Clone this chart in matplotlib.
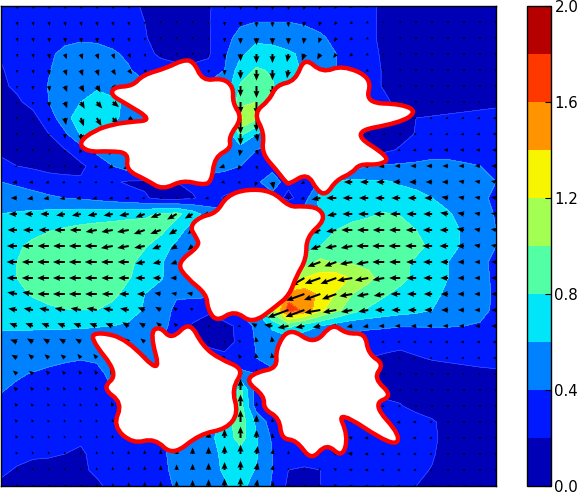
import numpy as np
import matplotlib
matplotlib.use('Agg')
import matplotlib.pyplot as plt
from matplotlib.path import Path
from matplotlib.patches import PathPatch

x_nodes = np.arange(1, 498, 16)
y_nodes = np.arange(6, 487, 16)
levels = [0, .2, .4, .6, .8, 1.0, 1.2, 1.4, 1.6, 1.8, 2.0]
bar_ticks = [0.0, 0.4, 0.8, 1.2, 1.6, 2.0]

speed_pct = [
[25,25,25,25,25,25,25,25,24,18,16,15,15,19,25,30,32,32,32,31,29,27,26,23,17,14,12,11,10,10,10,10],
[27,28,29,30,31,31,31,30,28,20,15,14,14,19,30,37,40,40,40,38,34,30,27,23,17,14,12,11,10,10,10,10],
[24,28,31,34,37,38,37,33,30,21,15,13,13,18,33,47,55,52,50,47,43,35,29,23,17,14,12,11,10,10,10,10],
[21,26,30,38,43,46,46,43,36,25,17,14,13,18,37,56,70,70,63,56,50,40,31,24,18,14,12,11,10,10,10,10],
[19,24,29,39,47,50,50,47,42,30,28,25,25,25,40,70,82,78,65,58,50,40,30,24,19,15,12,11,10,10,10,10],
[18,22,30,41,50,55,58,56,52,45,45,45,45,45,45,82,92,82,60,50,45,40,35,24,19,14,12,11,10,10,10,10],
[14,18,24,40,52,60,65,62,58,50,50,50,50,50,55,90,100,85,60,50,45,40,35,25,22,17,12,13,14,15,16,17],
[11,13,16,28,55,68,72,66,50,50,50,50,50,50,55,122,105,75,50,45,40,35,25,25,18,15,20,21,22,23,24,25],
[9,11,14,20,36,62,60,50,50,50,50,50,50,50,45,85,60,45,40,35,30,25,15,12,11,14,21,23,25,27,28,27],
[17,14,13,14,19,30,45,50,50,50,50,50,50,50,42,48,40,35,30,30,30,25,14,14,16,22,28,33,34,33,32,31],
[24,20,17,14,14,17,26,40,50,55,55,55,50,45,45,40,28,30,30,30,30,30,34,38,42,43,44,45,44,42,40,38],
[40,37,33,28,25,22,21,22,18,17,18,20,25,35,30,25,35,55,25,30,42,62,65,63,62,58,55,50,48,44,42,40],
[50,48,46,43,40,38,34,30,27,22,15,14,18,28,18,15,25,30,15,30,70,78,75,72,70,68,65,60,53,47,42,38],
[60,62,64,66,68,70,71,72,74,76,82,85,70,50,50,50,50,50,50,50,60,72,76,78,81,79,75,68,62,53,45,39],
[68,72,76,79,82,85,87,89,91,90,85,70,50,50,50,50,50,50,50,60,72,80,84,86,88,86,80,72,65,58,47,40],
[72,78,83,87,90,92,93,93,90,82,70,55,50,50,50,50,50,50,50,70,80,86,90,92,93,90,85,76,67,57,47,40],
[75,80,85,90,92,93,93,90,85,72,62,50,50,50,50,50,50,50,70,90,105,98,97,95,92,85,77,70,60,50,43,37],
[73,80,86,90,92,92,92,88,81,73,62,48,45,45,45,45,50,60,90,120,128,130,118,105,92,85,76,68,60,50,43,38],
[70,75,82,88,92,92,90,84,74,60,50,42,45,45,45,50,60,90,150,150,135,118,100,90,82,75,70,64,57,50,44,38],
[65,68,72,76,79,80,80,75,68,58,48,36,28,22,35,45,60,110,170,155,125,105,88,78,72,68,65,60,54,48,43,38],
[62,62,62,62,62,62,61,60,57,51,45,34,18,15,14,25,45,65,85,70,60,50,45,44,43,41,41,41,41,40,39,38],
[55,55,54,53,52,50,48,46,44,42,40,35,25,15,12,25,42,45,45,42,38,35,32,28,25,23,25,26,27,27,27,27],
[50,49,47,45,43,41,42,44,44,44,44,44,40,30,25,35,40,43,43,40,36,30,25,20,18,17,19,21,22,23,24,24],
[45,42,39,36,33,33,36,44,44,44,44,44,44,44,40,42,40,38,38,35,30,25,20,16,14,12,12,14,15,16,17,18],
[41,37,33,30,28,27,30,40,44,44,44,44,44,44,55,85,30,28,30,30,28,25,20,18,15,15,11,11,11,11,11,11],
[36,31,27,25,24,24,26,35,40,40,40,40,40,45,62,88,30,25,25,25,25,25,25,25,24,21,15,12,11,10,10,10],
[33,28,25,23,22,22,23,25,30,35,40,40,40,45,70,92,55,30,25,25,25,25,25,28,30,30,27,22,14,11,10,10],
[30,27,24,22,21,21,22,24,28,32,38,42,45,55,68,88,62,37,25,28,28,30,32,30,30,30,28,24,13,11,10,10],
[26,23,21,21,20,19,22,24,27,30,37,45,50,55,63,72,62,40,25,28,32,34,38,30,28,26,25,22,12,10,10,10],
[22,19,18,17,17,18,22,25,28,31,37,43,48,54,62,72,58,40,20,18,20,27,28,28,27,26,24,19,12,10,10,10],
[18,16,14,13,13,14,18,23,28,32,37,41,47,52,58,65,52,38,16,14,20,24,25,25,25,24,20,15,11,10,10,10],
]

angle_tens = [
[28,28,28,28,28,28,28,28,28,28,27,27,27,27,27,27,27,27,27,26,25,24,22,21,20,20,19,19,19,19,19,19],
[28,28,28,28,28,28,28,28,28,28,27,27,27,27,27,27,27,27,27,26,25,24,22,21,20,20,19,19,19,19,19,19],
[28,28,28,28,28,28,28,28,28,28,27,27,27,27,27,27,27,27,27,26,25,24,22,21,20,20,19,19,19,19,19,19],
[28,28,28,28,29,29,29,29,30,29,27,27,27,27,27,27,27,27,26,25,24,23,22,21,20,20,19,19,19,19,19,19],
[27,27,28,28,29,29,29,30,31,30,27,27,27,27,27,27,27,27,26,25,24,23,22,21,20,20,19,19,19,19,19,19],
[27,27,27,28,29,30,30,31,32,32,27,27,27,27,27,27,27,27,26,25,24,23,22,21,20,20,19,19,19,19,19,19],
[26,26,27,28,29,30,31,32,33,33,27,27,27,27,27,27,27,27,26,25,24,23,22,21,20,20,19,19,19,19,19,19],
[25,25,26,27,28,29,30,31,33,33,27,27,27,27,26,27,27,27,26,25,24,23,22,21,20,20,19,19,19,19,19,19],
[24,24,25,26,27,28,29,30,30,30,27,27,27,26,25,27,28,28,26,25,24,23,22,21,20,19,19,19,19,19,19,18],
[22,22,23,24,25,25,24,23,23,23,25,25,25,24,23,26,29,29,26,25,24,23,22,21,19,19,19,18,18,18,18,18],
[20,20,21,22,22,22,22,21,21,21,22,22,22,21,20,23,29,30,27,25,24,22,20,19,19,18,18,18,18,18,18,18],
[19,19,19,20,20,20,20,20,20,19,19,19,19,19,19,20,25,28,24,21,20,19,18,18,18,18,18,18,18,17,17,17],
[18,18,19,19,19,19,19,19,19,19,19,19,19,19,19,19,20,22,22,20,19,18,18,18,18,18,18,18,17,17,17,17],
[18,18,18,18,19,19,19,19,19,20,20,21,21,19,19,19,19,19,19,20,19,19,18,18,18,18,18,18,17,17,17,17],
[18,18,18,18,18,18,19,19,19,20,20,21,22,19,19,19,19,19,19,21,20,19,18,18,18,18,18,18,18,17,17,17],
[18,18,18,18,18,18,18,19,19,19,20,21,22,19,19,19,19,19,19,21,20,19,19,18,18,18,18,18,18,18,17,17],
[18,18,18,18,18,18,18,18,18,19,19,20,21,19,19,19,19,19,20,21,20,20,19,19,18,18,18,18,18,18,18,18],
[18,18,18,18,18,18,18,18,18,18,18,18,18,18,19,19,19,20,21,21,20,20,19,19,19,18,18,18,18,18,18,18],
[17,17,17,18,18,18,18,18,18,18,17,17,17,18,18,19,20,21,21,20,20,20,19,19,19,18,18,18,18,18,18,18],
[17,17,17,17,17,17,17,17,17,16,15,14,14,16,18,19,20,21,20,20,19,19,19,19,18,18,18,18,18,18,18,18],
[17,16,16,16,16,16,16,16,15,15,14,13,13,18,20,19,15,17,19,19,19,19,19,19,18,18,18,18,18,18,18,18],
[16,16,15,15,15,15,14,14,14,14,13,13,12,18,20,14,10,10,10,12,14,16,18,18,18,18,18,18,18,18,18,18],
[15,15,14,14,14,13,13,13,13,12,12,12,12,13,14,12,10,10,10,12,14,16,18,19,19,18,18,18,18,18,18,18],
[15,14,14,13,13,12,12,12,12,12,12,12,12,12,12,10,9,9,9,11,13,15,17,19,19,18,18,18,18,18,18,18],
[14,14,13,13,12,12,12,12,12,11,11,11,11,11,10,9,9,9,9,11,13,15,17,18,19,19,18,18,18,18,18,18],
[14,13,13,12,12,11,11,11,11,11,10,10,10,10,9,9,9,9,9,10,12,14,16,18,19,19,18,18,18,18,18,18],
[13,13,12,12,11,11,11,10,10,10,10,9,9,9,9,9,9,9,9,10,12,14,16,18,19,19,18,18,18,18,18,18],
[13,12,12,11,11,11,10,10,10,10,9,9,9,9,9,9,9,9,9,10,12,14,17,18,19,19,18,18,18,18,18,18],
[12,12,11,11,10,10,10,10,10,9,9,9,9,9,9,9,8,8,9,11,13,15,17,18,18,18,18,18,18,18,18,18],
[12,11,11,10,10,10,10,9,9,9,9,9,9,9,9,9,8,8,9,11,13,15,17,18,18,18,18,18,18,18,18,18],
[11,11,10,10,10,10,9,9,9,9,9,9,9,9,9,9,8,8,9,11,13,15,17,18,18,18,18,18,18,18,18,18],
]

body_top_left = [(78,143),(95,130),(115,124),(130,122),(153,120),(125,103),(111,95),(114,87),(133,86),(143,75),(167,68),(183,60),(194,61),(203,81),(223,78),(234,87),(233,103),(243,118),(229,137),(232,148),(215,157),(212,182),(203,185),(183,180),(163,190),(147,180),(126,170),(129,153),(110,151),(88,152)]
body_top_right = [(305,57),(323,73),(343,65),(373,78),(366,103),(403,104),(418,112),(400,123),(350,132),(392,158),(380,165),(360,164),(353,173),(337,180),(327,195),(318,191),(308,173),(290,184),(287,183),(277,170),(262,153),(265,133),(254,113),(270,100),(277,85),(296,81)]
body_centre = [(190,227),(200,217),(217,213),(227,196),(247,189),(273,191),(290,207),(303,206),(320,208),(326,220),(307,237),(307,259),(297,276),(290,295),(277,306),(253,324),(235,310),(217,322),(208,309),(207,294),(187,278),(177,263),(200,246),(197,238)]
body_bottom_left = [(89,337),(100,332),(127,339),(162,376),(150,333),(160,326),(172,340),(190,321),(203,346),(220,359),(245,369),(232,389),(239,413),(227,429),(200,434),(173,456),(155,438),(133,444),(113,426),(123,403),(102,388),(119,374)]
body_bottom_right = [(290,327),(315,345),(333,323),(347,334),(366,333),(369,354),(385,364),(374,378),(394,396),(373,404),(402,436),(394,447),(337,409),(349,436),(343,458),(327,443),(312,461),(297,440),(282,439),(280,418),(264,409),(265,396),(246,381),(257,372),(278,368),(276,349)]
bodies = [body_top_left, body_top_right, body_centre, body_bottom_left, body_bottom_right]


def smooth_closed(points):
    p = np.array(points, float)
    mids = (p + np.roll(p, -1, axis=0)) / 2
    verts = [mids[-1]]
    codes = [Path.MOVETO]
    for i in range(len(p)):
        verts += [p[i], mids[i]]
        codes += [Path.CURVE3, Path.CURVE3]
    return Path(verts, codes)


S = np.array(speed_pct) / 100.0
theta = np.deg2rad(np.array(angle_tens) * 10.0)
U, V = S * np.cos(theta), S * np.sin(theta)

W, H = 580, 492
fig = plt.figure(figsize=(W / 100, H / 100), dpi=100)
ax = fig.add_axes([1 / W, 1 - 486 / H, 495 / W, 480 / H])
cs = ax.contourf(x_nodes, y_nodes, S, levels=levels, cmap='jet', vmin=0, vmax=2)
ax.contour(x_nodes, y_nodes, S, levels=levels, colors='white', linewidths=0.4, alpha=0.3)
ax.quiver(x_nodes, y_nodes, U, V, angles='uv', scale_units='xy', scale=1 / 13,
          units='dots', width=2.0, headwidth=3.0, headlength=3.6, headaxislength=3.2, color='k', zorder=3)
for b in bodies:
    ax.add_patch(PathPatch(smooth_closed(b), fc='white', ec='red', lw=3.2, joinstyle='round', zorder=4))
ax.set_xlim(1, 497)
ax.set_ylim(486, 6)
ax.set_xticks([])
ax.set_yticks([])
for s in ax.spines.values():
    s.set_linewidth(1.0)

cax = fig.add_axes([527 / W, 1 - 486 / H, 24 / W, 480 / H])
cb = fig.colorbar(cs, cax=cax, ticks=bar_ticks)
cb.ax.set_yticklabels([f'{t:.1f}' for t in bar_ticks], fontsize=10.8)
cb.ax.tick_params(direction='in', length=4, width=0.8, pad=2.5, right=True)
cb.outline.set_linewidth(1.0)
fig.savefig('out.png', dpi=100)
